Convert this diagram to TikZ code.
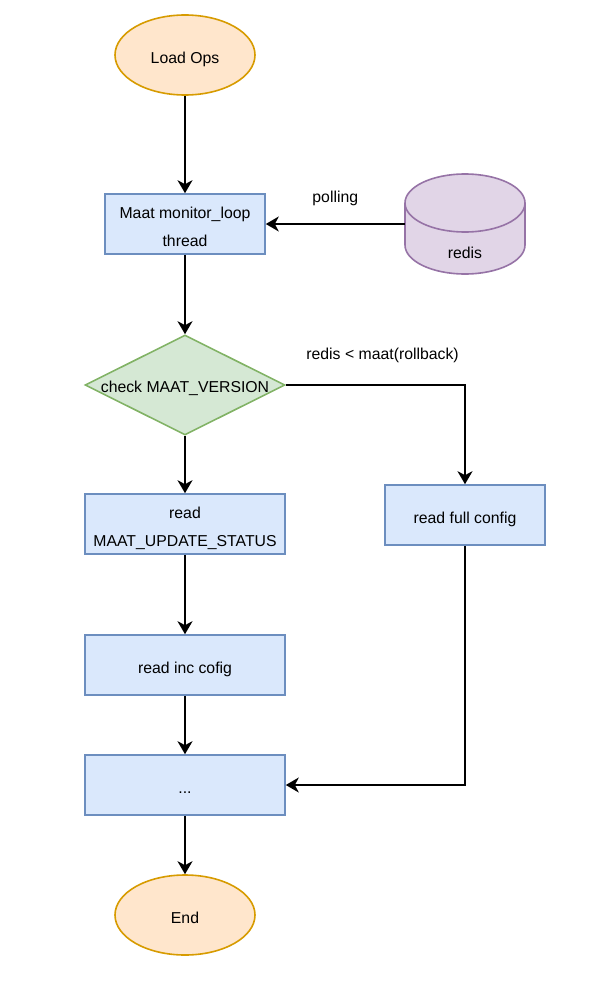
\documentclass[tikz,border=0pt]{standalone}
\usepackage{fontspec}
\setmainfont{Liberation Sans}
\usetikzlibrary{shapes.geometric,arrows.meta}
\definecolor{orfill}{HTML}{FFE6CC}
\definecolor{ordraw}{HTML}{D79B00}
\definecolor{blfill}{HTML}{DAE8FC}
\definecolor{bldraw}{HTML}{6C8EBF}
\definecolor{grfill}{HTML}{D5E8D4}
\definecolor{grdraw}{HTML}{82B366}
\definecolor{pufill}{HTML}{E1D5E7}
\definecolor{pudraw}{HTML}{9673A6}
% node text, set a little lower as in draw.io
\newcommand{\lowr}[1]{\raisebox{-2.5pt}[\height][\depth]{\begin{tabular}{@{}c@{}}#1\end{tabular}}}
\begin{document}
\begin{tikzpicture}[x=1pt,y=-1pt,
  font=\fontsize{15.8pt}{28pt}\selectfont,
  term/.style={draw=ordraw, fill=orfill, line width=1.6pt, ellipse, minimum width=140pt, minimum height=80pt, inner sep=0pt},
  proc/.style={draw=bldraw, fill=blfill, line width=1.6pt, rectangle, minimum width=200pt, minimum height=60pt, inner sep=0pt},
  test/.style={draw=grdraw, fill=grfill, line width=1.6pt, diamond, aspect=2, minimum width=200pt, minimum height=100pt, inner sep=0pt},
  arr/.style={line width=2pt, -{Stealth[length=13pt,width=15pt,inset=4pt]}}]
\useasboundingbox (0,0) rectangle (596,982);
% redis drum
\filldraw[draw=pudraw, fill=pufill, line width=1.6pt] (405,245) arc[start angle=180, end angle=360, x radius=60pt, y radius=29pt] -- (525,203) arc[start angle=0, end angle=180, x radius=60pt, y radius=29pt] -- cycle;
\draw[draw=pudraw, line width=1.6pt] (405,203) arc[start angle=180, end angle=360, x radius=60pt, y radius=29pt];
\node[minimum width=120pt, minimum height=100pt, inner sep=0pt, label={[yshift=-29pt]center:redis}] (redis) at (465,224) {};
% flow
\node[term] (load) at (185,55) {\lowr{Load Ops}};
\node[proc, minimum width=160pt] (monitor) at (185,224) {\lowr{Maat monitor\_loop\\thread}};
\node[test] (check) at (185,385) {\raisebox{-7.5pt}[0pt][0pt]{check MAAT\_VERSION}};
\node[proc] (status) at (185,524) {\lowr{read\\MAAT\_UPDATE\_STATUS}};
\node[proc, minimum width=160pt] (full) at (465,515) {\lowr{read full config}};
\node[proc] (inc) at (185,665) {\lowr{read inc cofig}};
\node[proc] (dots) at (185,785) {\lowr{...}};
\node[term] (fin) at (185,915) {\lowr{End}};
\draw[arr] (load) -- (monitor);
\draw[arr] (redis) -- node[yshift=26pt] {polling} (monitor);
\draw[arr] (monitor) -- (check);
\draw[arr] (check) -- (status);
\draw[arr] (check.east) -| node[pos=0.27, yshift=30pt] {redis < maat(rollback)} (full.north);
\draw[arr] (status) -- (inc);
\draw[arr] (inc) -- (dots);
\draw[arr] (full.south) |- (dots.east);
\draw[arr] (dots) -- (fin);
\end{tikzpicture}
\end{document}
